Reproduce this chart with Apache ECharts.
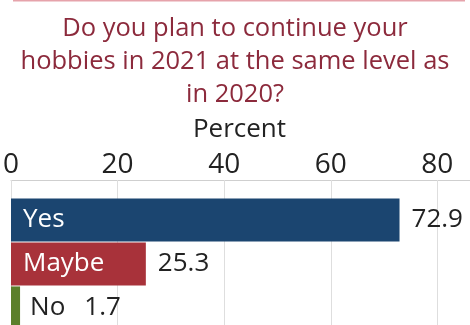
<!DOCTYPE html>
<html>
<head>
<meta charset="utf-8">
<script src="https://cdn.jsdelivr.net/npm/echarts@6/dist/echarts.min.js"></script>
<style>
html,body{margin:0;padding:0;background:#fff;overflow:hidden;}
#c{width:470px;height:325px;}
</style>
</head>
<body>
<div id="c"></div>
<script>
const titleText = 'Do you plan to continue your\nhobbies in 2021 at the same level as\nin 2020?';
const axisName = 'Percent';
const categories = ['Yes', 'Maybe', 'No'];
const values = [72.9, 25.3, 1.7];
const barColors = ['#1b4570', '#a8323a', '#5b7f2b'];
const tickValues = [0, 20, 40, 60, 80];

const FONT = '"Open Sans", "Noto Sans", sans-serif';
const chart = echarts.init(document.getElementById('c'), null, {renderer: 'canvas'});

const nameData = values.map((v, i) => {
  const inside = v > 10;
  return {
    value: v,
    itemStyle: {color: barColors[i]},
    label: inside
      ? {show: true, position: 'insideLeft', distance: 12, color: '#fff', formatter: categories[i]}
      : {show: false}
  };
});
const valueData = values.map((v, i) => {
  const inside = v > 10;
  return {
    value: v,
    label: {show: true, position: 'right', distance: inside ? 12 : 10, color: '#222',
      formatter: inside ? String(v) : '{n|' + categories[i] + '}{v|' + v + '}'}
  };
});

chart.setOption({
  animation: false,
  backgroundColor: '#fff',
  title: {
    text: titleText,
    left: 'center',
    top: 7,
    textStyle: {fontFamily: FONT, fontSize: 25.5, fontWeight: 'normal', color: '#8c2a3c', lineHeight: 33}
  },
  graphic: [{
    type: 'line', shape: {x1: 13, y1: 0.5, x2: 465, y2: 0.5},
    style: {stroke: '#e6a3ab', lineWidth: 2}
  }],
  grid: {left: 11, right: -10, top: 198, height: 132, containLabel: false, outerBoundsMode: 'none'},
  xAxis: {
    type: 'value',
    position: 'top',
    min: 0,
    max: 88,
    interval: 20,
    offset: 18,
    name: axisName,
    nameLocation: 'middle',
    nameGap: 37,
    nameTextStyle: {fontFamily: FONT, fontSize: 26, color: '#222', padding: [0, 12, 0, 0]},
    axisLine: {show: true, lineStyle: {color: '#cfcfcf', width: 1}},
    axisTick: {show: true, inside: true, length: 18, lineStyle: {color: '#dedede'}},
    axisLabel: {
      fontFamily: FONT, fontSize: 28, color: '#222', margin: 1,
      formatter: v => tickValues.indexOf(v) >= 0 ? String(v) : ''
    },
    splitLine: {show: true, lineStyle: {color: '#dedede', width: 1}}
  },
  yAxis: {
    type: 'category',
    data: categories,
    inverse: true,
    axisLine: {show: false},
    axisTick: {show: false},
    axisLabel: {show: false}
  },
  series: [
    {
      type: 'bar',
      data: nameData,
      barCategoryGap: '2%',
      label: {fontFamily: FONT, fontSize: 26},
      z: 2
    },
    {
      type: 'bar',
      data: valueData,
      barGap: '-100%',
      barCategoryGap: '2%',
      itemStyle: {color: 'rgba(0,0,0,0)'},
      label: {
        fontFamily: FONT, fontSize: 26,
        rich: {
          n: {fontFamily: FONT, fontSize: 26, color: '#222'},
          v: {fontFamily: FONT, fontSize: 26, color: '#222', padding: [0, 0, 0, 19]}
        }
      },
      z: 3
    }
  ]
});
</script>
</body>
</html>
